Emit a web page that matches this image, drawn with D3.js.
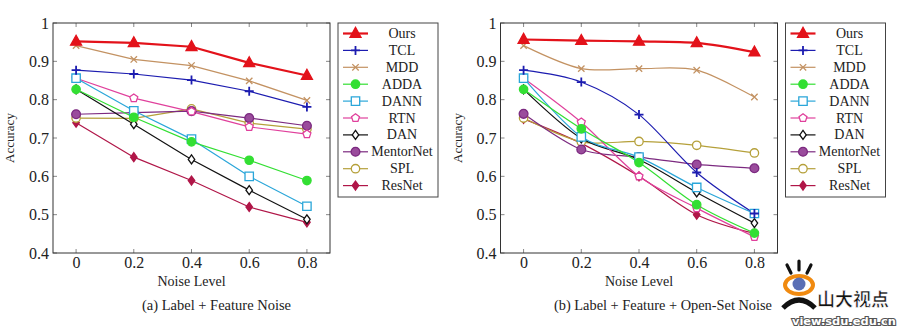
<!DOCTYPE html>
<html>
<head>
<meta charset="utf-8">
<script src="https://cdn.jsdelivr.net/npm/d3@7/dist/d3.min.js"></script>
<style>
  html, body { margin: 0; padding: 0; background: #fff; }
  svg { display: block; }
</style>
</head>
<body>
<svg id="chart" width="900" height="330"></svg>
<script>
// Noise levels on the x axis
const noiseLevels = [0, 0.2, 0.4, 0.6, 0.8];
const xTickLabels = ["0", "0.2", "0.4", "0.6", "0.8"];
const yTicks = [0.4, 0.5, 0.6, 0.7, 0.8, 0.9, 1];
const yTickLabels = ["0.4", "0.5", "0.6", "0.7", "0.8", "0.9", "1"];

const methods = ["Ours", "TCL", "MDD", "ADDA", "DANN", "RTN", "DAN", "MentorNet", "SPL", "ResNet"];

// (a) Label + Feature Noise
const featureOurs      = [0.952, 0.948, 0.938, 0.896, 0.863];
const featureTCL       = [0.877, 0.867, 0.851, 0.822, 0.781];
const featureMDD       = [0.941, 0.905, 0.889, 0.849, 0.798];
const featureADDA      = [0.827, 0.754, 0.690, 0.642, 0.589];
const featureDANN      = [0.856, 0.771, 0.697, 0.600, 0.522];
const featureRTN       = [0.856, 0.804, 0.769, 0.729, 0.710];
const featureDAN       = [0.827, 0.736, 0.644, 0.564, 0.488];
const featureMentorNet = [0.762, 0.766, 0.770, 0.752, 0.732];
const featureSPL       = [0.752, 0.751, 0.776, 0.739, 0.723];
const featureResNet    = [0.740, 0.650, 0.589, 0.520, 0.480];

// (b) Label + Feature + Open-Set Noise
const openOurs      = [0.957, 0.954, 0.952, 0.948, 0.924];
const openTCL       = [0.877, 0.846, 0.761, 0.610, 0.503];
const openMDD       = [0.941, 0.881, 0.881, 0.877, 0.807];
const openADDA      = [0.827, 0.724, 0.636, 0.526, 0.452];
const openDANN      = [0.856, 0.703, 0.650, 0.571, 0.503];
const openRTN       = [0.856, 0.741, 0.600, 0.517, 0.442];
const openDAN       = [0.827, 0.699, 0.644, 0.558, 0.478];
const openMentorNet = [0.763, 0.670, 0.650, 0.631, 0.621];
const openSPL       = [0.752, 0.690, 0.691, 0.681, 0.661];
const openResNet    = [0.750, 0.686, 0.600, 0.500, 0.451];

const featureSeries = [featureOurs, featureTCL, featureMDD, featureADDA, featureDANN,
                       featureRTN, featureDAN, featureMentorNet, featureSPL, featureResNet];
const openSeries = [openOurs, openTCL, openMDD, openADDA, openDANN,
                    openRTN, openDAN, openMentorNet, openSPL, openResNet];

// Visual style per method
const styles = {
  Ours:      { color: "#e3121a", width: 2.2, marker: "triangle", fill: "#e3121a", size: 5.5 },
  TCL:       { color: "#1c1cb0", width: 1.2, marker: "plus",     fill: "none",    size: 4.5 },
  MDD:       { color: "#c39262", width: 1.2, marker: "cross",    fill: "none",    size: 3.2 },
  ADDA:      { color: "#33df33", width: 1.2, marker: "circle",   fill: "#33df33", size: 4.2 },
  DANN:      { color: "#2aa6d9", width: 1.2, marker: "square",   fill: "#fff",    size: 4.2 },
  RTN:       { color: "#e0409c", width: 1.2, marker: "pentagon", fill: "#fff",    size: 4.2 },
  DAN:       { color: "#111111", width: 1.2, marker: "diamond",  fill: "#fff",    size: 3.6 },
  MentorNet: { color: "#7c2a80", width: 1.2, marker: "circle",   fill: "#9a4c9c", size: 4.4 },
  SPL:       { color: "#b5a03a", width: 1.2, marker: "circle",   fill: "#fff",    size: 4.2 },
  ResNet:    { color: "#b01648", width: 1.2, marker: "diamond",  fill: "#b01648", size: 3.6 }
};

const serif = "'Liberation Serif', 'DejaVu Serif', serif";
const svg = d3.select("#chart");

function markerPath(type, r) {
  switch (type) {
    case "triangle": {
      const h = r * 1.8;
      return `M0,${-h * 0.62}L${r},${h * 0.38}L${-r},${h * 0.38}Z`;
    }
    case "plus":
      return `M${-r},0L${r},0M0,${-r}L0,${r}`;
    case "cross":
      return `M${-r},${-r}L${r},${r}M${-r},${r}L${r},${-r}`;
    case "square":
      return `M${-r},${-r}L${r},${-r}L${r},${r}L${-r},${r}Z`;
    case "diamond":
      return `M0,${-r * 1.25}L${r * 0.9},0L0,${r * 1.25}L${-r * 0.9},0Z`;
    case "pentagon": {
      const pts = d3.range(5).map(i => {
        const a = -Math.PI / 2 + i * 2 * Math.PI / 5;
        return [r * Math.cos(a), r * Math.sin(a)];
      });
      return "M" + pts.map(p => p.join(",")).join("L") + "Z";
    }
    default:
      return d3.symbol(d3.symbolCircle, Math.PI * r * r)();
  }
}

function drawMarker(g, name, x, y) {
  const s = styles[name];
  g.append("path")
    .attr("transform", `translate(${x},${y})`)
    .attr("d", markerPath(s.marker, s.size))
    .attr("fill", s.fill)
    .attr("stroke", s.color)
    .attr("stroke-width", s.marker === "plus" ? 1.8 : 1.3);
}

function drawPanel(opts) {
  const { left, right, top, bottom, series, smooth, caption, captionX, captionWidth } = opts;
  const x = d3.scaleLinear().domain([-0.08, 0.88]).range([left, right]);
  const y = d3.scaleLinear().domain([0.4, 1]).range([bottom, top]);
  const g = svg.append("g");

  // tick marks on all four sides (inward)
  const tickLen = 4;
  const ticks = g.append("g").attr("stroke", "#888").attr("stroke-width", 1);
  noiseLevels.forEach(v => {
    ticks.append("line").attr("x1", x(v)).attr("x2", x(v)).attr("y1", bottom).attr("y2", bottom - tickLen);
    ticks.append("line").attr("x1", x(v)).attr("x2", x(v)).attr("y1", top).attr("y2", top + tickLen);
  });
  yTicks.forEach(v => {
    ticks.append("line").attr("x1", left).attr("x2", left + tickLen).attr("y1", y(v)).attr("y2", y(v));
    ticks.append("line").attr("x1", right).attr("x2", right - tickLen).attr("y1", y(v)).attr("y2", y(v));
  });

  // tick labels via d3 axes
  const xAxis = d3.axisBottom(x).tickValues(noiseLevels)
    .tickFormat((d, i) => xTickLabels[i]).tickSize(0).tickPadding(4);
  const gx = g.append("g").attr("transform", `translate(0,${bottom})`).call(xAxis);
  const yAxis = d3.axisLeft(y).tickValues(yTicks)
    .tickFormat((d, i) => yTickLabels[i]).tickSize(0).tickPadding(4);
  const gy = g.append("g").attr("transform", `translate(${left},0)`).call(yAxis);
  [gx, gy].forEach(a => {
    a.select(".domain").remove();
    a.selectAll("text").attr("font-family", serif).attr("font-size", 16).attr("fill", "#222");
  });

  // lines and markers
  const line = d3.line()
    .x((d, i) => x(noiseLevels[i]))
    .y(d => y(d))
    .curve(smooth ? d3.curveCardinal.tension(0.1) : d3.curveLinear);

  const order = methods.map((m, i) => i).reverse();
  order.forEach(i => {
    const name = methods[i];
    const s = styles[name];
    g.append("path")
      .attr("d", line(series[i]))
      .attr("fill", "none")
      .attr("stroke", s.color)
      .attr("stroke-width", s.width)
      .attr("stroke-linejoin", "round");
  });
  order.forEach(i => {
    const name = methods[i];
    series[i].forEach((v, j) => drawMarker(g, name, x(noiseLevels[j]), y(v)));
  });

  // frame
  g.append("rect")
    .attr("x", left).attr("y", top)
    .attr("width", right - left).attr("height", bottom - top)
    .attr("fill", "none").attr("stroke", "#333").attr("stroke-width", 1);

  // axis titles
  g.append("text")
    .attr("x", x(0.4)).attr("y", bottom + 33)
    .attr("text-anchor", "middle")
    .attr("font-family", serif).attr("font-size", 14).attr("fill", "#222")
    .text("Noise Level");
  g.append("text")
    .attr("transform", `translate(${left - 39},${(top + bottom) / 2}) rotate(-90)`)
    .attr("text-anchor", "middle")
    .attr("font-family", serif).attr("font-size", 13).attr("fill", "#222")
    .text("Accuracy");

  // caption, centred under the whole sub-figure
  g.append("text")
    .attr("x", captionX).attr("y", bottom + 57)
    .attr("text-anchor", "middle")
    .attr("font-family", serif).attr("font-size", 15).attr("fill", "#222")
    .attr("textLength", captionWidth).attr("lengthAdjust", "spacingAndGlyphs")
    .text(caption);

  // legend
  const lx = right + 8, ly = top, lw = 100, lh = 174;
  const lg = g.append("g");
  lg.append("rect").attr("x", lx).attr("y", ly).attr("width", lw).attr("height", lh)
    .attr("fill", "#fff").attr("stroke", "#444").attr("stroke-width", 1);
  methods.forEach((name, i) => {
    const s = styles[name];
    const cy = ly + 10.5 + i * 16.9;
    lg.append("line")
      .attr("x1", lx + 5).attr("x2", lx + 30)
      .attr("y1", cy).attr("y2", cy)
      .attr("stroke", s.color).attr("stroke-width", s.width);
    drawMarker(lg, name, lx + 17.5, cy);
    lg.append("text")
      .attr("x", lx + 64).attr("y", cy + 4.5)
      .attr("text-anchor", "middle")
      .attr("font-family", serif).attr("font-size", 14).attr("fill", "#222")
      .text(name);
  });
}

drawPanel({ left: 53, right: 330, top: 23, bottom: 253, series: featureSeries,
            smooth: false, caption: "(a) Label + Feature Noise",
            captionX: 216.5, captionWidth: 149 });
drawPanel({ left: 500.5, right: 777.5, top: 23, bottom: 253, series: openSeries,
            smooth: true, caption: "(b) Label + Feature + Open-Set Noise",
            captionX: 663, captionWidth: 218 });

// site badge in the lower right corner
const badge = svg.append("g");
const bx = 799, by = 287;
[[-12, -22, -8, -14], [0, -26, 0, -17], [12, -22, 8, -14]].forEach(([x1, y1, x2, y2]) => {
  badge.append("line").attr("x1", bx + x1).attr("y1", by + y1).attr("x2", bx + x2).attr("y2", by + y2)
    .attr("stroke", "#111").attr("stroke-width", 3.2).attr("stroke-linecap", "round");
});
badge.append("ellipse").attr("cx", bx).attr("cy", by - 2).attr("rx", 14).attr("ry", 9)
  .attr("fill", "#fff").attr("stroke", "#f08a10").attr("stroke-width", 4);
badge.append("circle").attr("cx", bx).attr("cy", by - 3).attr("r", 6.5).attr("fill", "#5a6fb5");
badge.append("path").attr("d", `M${bx - 16},${by + 21}Q${bx},${by + 5} ${bx + 16},${by + 21}`)
  .attr("fill", "none").attr("stroke", "#111").attr("stroke-width", 5);
badge.append("text").attr("x", bx + 18).attr("y", by + 19)
  .attr("font-family", "'Noto Sans CJK SC', sans-serif").attr("font-weight", 700)
  .attr("font-size", 18).attr("fill", "#111").attr("stroke", "#fff").attr("stroke-width", 0.6)
  .text("山大视点");
badge.append("text").attr("x", 896).attr("y", 325)
  .attr("text-anchor", "end")
  .attr("font-family", "'DejaVu Sans', sans-serif").attr("font-weight", 700)
  .attr("font-size", 10).attr("fill", "#fff")
  .attr("stroke", "#555").attr("stroke-width", 2).attr("paint-order", "stroke")
  .attr("textLength", 104).attr("lengthAdjust", "spacingAndGlyphs")
  .text("view.sdu.edu.cn");
</script>
</body>
</html>
